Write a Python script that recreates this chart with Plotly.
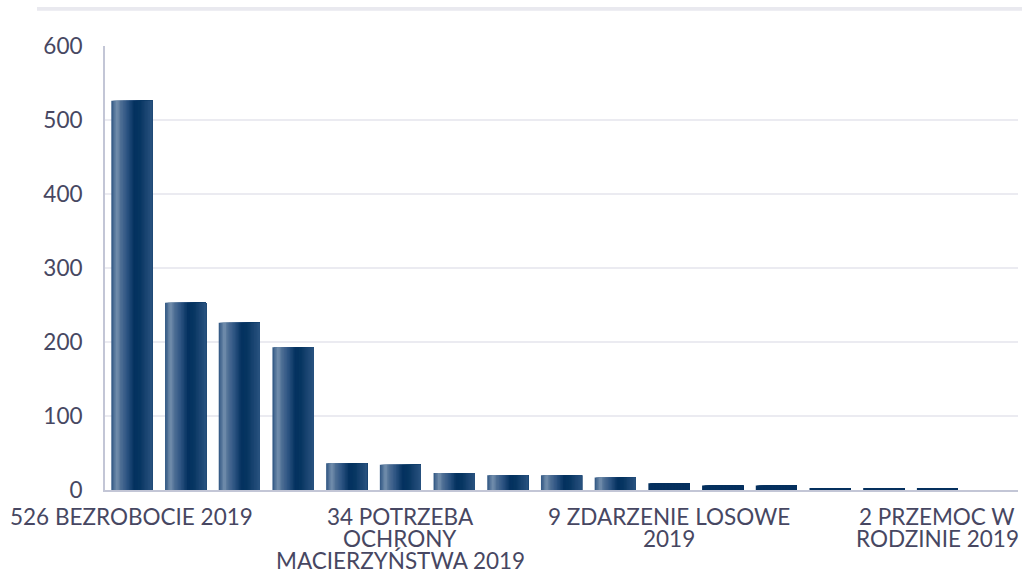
import plotly.graph_objects as go

# ---- data ----
categories = [
    "526 BEZROBOCIE 2019",
    "253 UBÓSTWO 2019",
    "226 DŁUGOTRWAŁA LUB CIĘŻKA CHOROBA 2019",
    "193 NIEPEŁNOSPRAWNOŚĆ 2019",
    "36 BEZRADNOŚĆ W SPRAWACH OPIEKUŃCZO-WYCHOWAWCZYCH 2019",
    "34 POTRZEBA OCHRONY MACIERZYŃSTWA 2019",
    "23 ALKOHOLIZM 2019",
    "20 WIELODZIETNOŚĆ 2019",
    "20 BEZDOMNOŚĆ 2019",
    "17 POTRZEBA OCHRONY MACIERZYŃSTWA - WIELODZIETNOŚĆ 2019",
    "9 ZDARZENIE LOSOWE 2019",
    "6 TRUDNOŚCI W PRZYSTOSOWANIU DO ŻYCIA PO ZWOLNIENIU Z ZAKŁADU KARNEGO 2019",
    "6 SYTUACJA KRYZYSOWA 2019",
    "2 NARKOMANIA 2019",
    "2 SIEROCTWO 2019",
    "2 PRZEMOC W RODZINIE 2019",
    "0 KLĘSKA ŻYWIOŁOWA LUB EKOLOGICZNA 2019",
]
values = [526, 253, 226, 193, 36, 34, 23, 20, 20, 17, 9, 6, 6, 2, 2, 2, 0]

shown_index = [0, 5, 10, 15]
shown_lines = [
    ["526 BEZROBOCIE 2019"],
    ["34 POTRZEBA", "OCHRONY", "MACIERZYŃSTWA 2019"],
    ["9 ZDARZENIE LOSOWE", "2019"],
    ["2 PRZEMOC W", "RODZINIE 2019"],
]
y_ticks = [0, 100, 200, 300, 400, 500, 600]
title_text = "Powody przyznania pomocy społecznej 2019"

# ---- gradient styling (horizontal bar shading) ----
stops = [
    (0.00, (45, 84, 129)),
    (0.08, (88, 120, 156)),
    (0.14, (118, 145, 174)),
    (0.22, (80, 112, 150)),
    (0.38, (45, 84, 130)),
    (0.56, (3, 49, 95)),
    (0.70, (7, 54, 98)),
    (0.86, (28, 70, 115)),
    (1.00, (40, 82, 127)),
]


def grad(t):
    for (t0, c0), (t1, c1) in zip(stops[:-1], stops[1:]):
        if t0 <= t <= t1:
            f = (t - t0) / (t1 - t0) if t1 > t0 else 0
            c = [round(a + (b - a) * f) for a, b in zip(c0, c1)]
            return "rgb({},{},{})".format(*c)
    return "rgb(40,82,127)"


SOLID = "#05305e"
n_stripes = 28
bar_w = 0.765
sw = bar_w / n_stripes

fig = go.Figure()
for i in range(n_stripes):
    t = (i + 0.5) / n_stripes
    col = grad(t)
    colors = [col if v >= 10 else SOLID for v in values]
    fig.add_trace(go.Bar(
        x=categories,
        y=values,
        width=bar_w - i * sw,
        offset=-bar_w / 2 + i * sw,
        marker=dict(color=colors, line=dict(width=0)),
        showlegend=False,
        hovertemplate="%{x}: %{y}<extra></extra>",
    ))

font_color = "#474762"
font_family = "Lato, 'Open Sans', sans-serif"
FS = 22.5

annotations = []
for idx, lines in zip(shown_index, shown_lines):
    for j, line in enumerate(lines):
        annotations.append(dict(
            text=line, xref="x", yref="paper", x=categories[idx], y=0,
            xanchor="center", yanchor="middle", yshift=-(26 + 22 * j),
            showarrow=False, font=dict(size=FS, color=font_color, family=font_family),
        ))
annotations.append(dict(
    text=title_text, xref="paper", yref="paper",
    x=0.435, y=1.0, yshift=43, xanchor="center", yanchor="bottom",
    showarrow=False, font=dict(size=18, color="#111111", family=font_family),
))

fig.update_layout(
    width=1022,
    height=569,
    barmode="overlay",
    paper_bgcolor="white",
    plot_bgcolor="white",
    margin=dict(l=105, r=4, t=46, b=79, autoexpand=False),
    font=dict(family=font_family, color=font_color, size=FS),
    xaxis=dict(
        type="category",
        showticklabels=False,
        showgrid=False,
        showline=True,
        linecolor="#c3c6d6",
        linewidth=2,
        ticks="",
        automargin=False,
        range=[-0.5, len(categories) - 0.5],
    ),
    yaxis=dict(
        range=[0, 600],
        tickvals=y_ticks,
        tickfont=dict(size=FS, color=font_color),
        showgrid=True,
        gridcolor="#ebebf1",
        gridwidth=1.5,
        showline=True,
        linecolor="#c3c6d6",
        linewidth=2,
        zeroline=False,
        ticks="",
        automargin=False,
        ticklabelstandoff=16,
    ),
    shapes=[dict(
        type="rect", xref="paper", yref="paper",
        x0=-0.0745, x1=1.01, y0=1.0795, y1=1.0878,
        fillcolor="#e9e9ef", line=dict(width=0), layer="below",
    )],
    annotations=annotations,
)

fig.write_html(
    "out.html",
    config={"displayModeBar": False},
    post_script="document.body.style.margin='0';",
)
